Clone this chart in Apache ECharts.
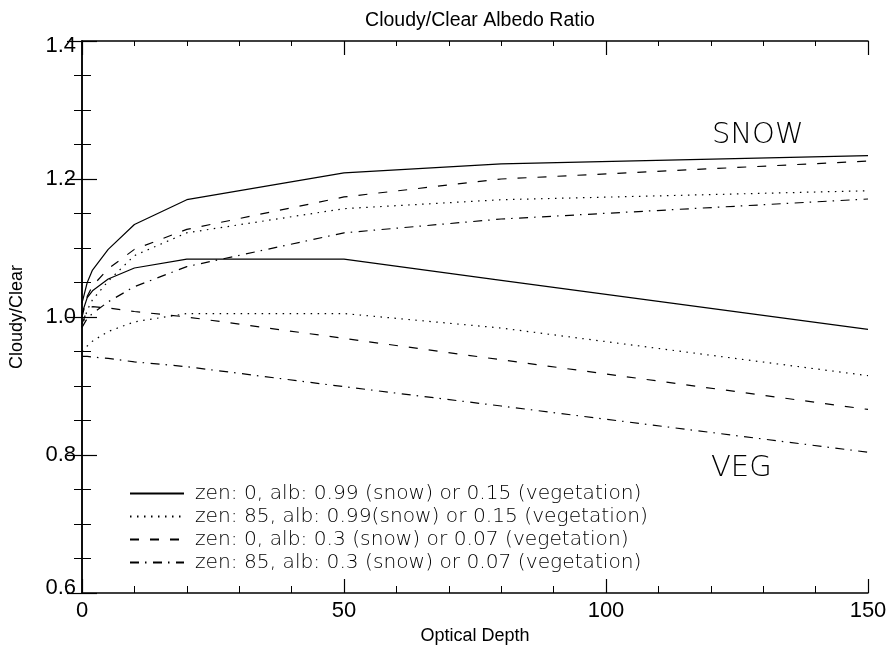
<!DOCTYPE html>
<html>
<head>
<meta charset="utf-8">
<script src="https://cdn.jsdelivr.net/npm/echarts@6/dist/echarts.min.js"></script>
<style>
html,body{margin:0;padding:0;background:#fff;}
#chart{width:890px;height:653px;}
</style>
</head>
<body>
<div id="chart"></div>
<script>
// ---- data ----
const opticalDepth = [0, 1, 2, 5, 10, 20, 50, 80, 150];
// snow (upper group)
const snowZen0Alb099 = [1.020, 1.050, 1.068, 1.098, 1.134, 1.170, 1.209, 1.222, 1.234];
const snowZen85Alb099 = [0.985, 1.010, 1.025, 1.052, 1.089, 1.122, 1.157, 1.170, 1.183];
const snowZen0Alb03 = [1.000, 1.030, 1.045, 1.070, 1.098, 1.127, 1.174, 1.200, 1.226];
const snowZen85Alb03 = [0.985, 0.998, 1.005, 1.022, 1.044, 1.073, 1.122, 1.142, 1.171];
// vegetation (lower group)
const vegZen0Alb015 = [1.005, 1.028, 1.038, 1.055, 1.071, 1.084, 1.084, 1.053, 0.982];
const vegZen85Alb015 = [0.950, 0.958, 0.965, 0.979, 0.993, 1.005, 1.005, 0.984, 0.915];
const vegZen0Alb007 = [0.990, 1.010, 1.015, 1.013, 1.008, 1.000, 0.969, 0.938, 0.866];
const vegZen85Alb007 = [0.943, 0.943, 0.942, 0.940, 0.935, 0.928, 0.899, 0.871, 0.804];

const legendNames = [
  'zen: 0, alb: 0.99 (snow) or 0.15 (vegetation)',
  'zen: 85, alb: 0.99(snow) or 0.15 (vegetation)',
  'zen: 0, alb: 0.3 (snow) or 0.07 (vegetation)',
  'zen: 85, alb: 0.3 (snow) or 0.07 (vegetation)'
];
const xTicks = [0, 50, 100, 150];
const yTicks = [0.6, 0.8, 1.0, 1.2, 1.4];

function pairs(ys) { return opticalDepth.map((x, i) => [x, ys[i]]); }

const dashStyles = ['solid', [1.5, 5.5], [9, 11], [9, 6, 1.5, 6.5]];
const groups = [
  [snowZen0Alb099, vegZen0Alb015],
  [snowZen85Alb099, vegZen85Alb015],
  [snowZen0Alb03, vegZen0Alb007],
  [snowZen85Alb03, vegZen85Alb007]
];

const series = [];
groups.forEach((g, k) => {
  g.forEach(ys => {
    series.push({
      name: legendNames[k],
      type: 'line',
      data: pairs(ys),
      symbol: 'none',
      showSymbol: false,
      animation: false,
      lineStyle: { color: '#000', width: 1.2, type: dashStyles[k] },
      itemStyle: { color: '#000' }
    });
  });
});

const font = '"Liberation Sans", Arial, Helvetica, sans-serif';
const thinFont = '"DejaVu Sans", sans-serif';
const axisLine = { show: true, lineStyle: { color: '#000', width: 1.5 } };

const chart = echarts.init(document.getElementById('chart'), null, { renderer: 'canvas' });
chart.setOption({
  backgroundColor: '#fff',
  animation: false,
  title: {
    text: 'Cloudy/Clear Albedo Ratio',
    left: 475, textAlign: 'center', top: 6,
    textStyle: { fontFamily: font, fontSize: 19.5, fontWeight: 'normal', color: '#000' }
  },
  grid: { left: 81, right: 22, top: 41, bottom: 60, containLabel: false },
  legend: {
    data: legendNames,
    orient: 'vertical',
    left: 124, top: 478,
    itemWidth: 54, itemHeight: 14, itemGap: 2,
    itemStyle: { color: 'transparent', borderWidth: 0, opacity: 0 },
    textStyle: { fontFamily: thinFont, fontSize: 20.2, fontWeight: 200, lineHeight: 21, color: '#000', padding: [0, 0, 0, 6] },
    selectedMode: false
  },
  xAxis: [
    {
      type: 'value', position: 'bottom', min: 0, max: 150, interval: 50,
      axisLine: axisLine,
      axisTick: { show: true, inside: true, length: 14, lineStyle: { color: '#000', width: 1.2 } },
      minorTick: { show: true, splitNumber: 5, length: 7, lineStyle: { color: '#000', width: 1 } },
      splitLine: { show: false },
      axisLabel: { color: '#000', fontFamily: font, fontSize: 22, margin: 7,
        formatter: v => xTicks.includes(v) ? String(v) : '' },
      name: 'Optical Depth', nameLocation: 'middle', nameGap: 31,
      nameTextStyle: { fontFamily: font, fontSize: 18, color: '#000' }
    },
    {
      type: 'value', position: 'top', min: 0, max: 150, interval: 50,
      axisLine: axisLine,
      axisTick: { show: true, inside: true, length: 14, lineStyle: { color: '#000', width: 1.2 } },
      minorTick: { show: true, splitNumber: 5, length: 5, lineStyle: { color: '#000', width: 1 } },
      splitLine: { show: false },
      axisLabel: { show: false }
    }
  ],
  yAxis: [
    {
      type: 'value', position: 'left', min: 0.6, max: 1.4, interval: 0.2,
      axisLine: axisLine,
      axisTick: { show: true, inside: true, length: 15, lineStyle: { color: '#000', width: 1.2 } },
      minorTick: { show: true, splitNumber: 4, length: 9, lineStyle: { color: '#000', width: 1 } },
      splitLine: { show: false },
      axisLabel: { color: '#000', fontFamily: font, fontSize: 22, margin: 6,
        formatter: v => {
          const t = yTicks.find(y => Math.abs(y - v) < 1e-6);
          if (t === undefined) return '';
          if (t === yTicks[yTicks.length - 1]) return '{dn|' + t.toFixed(1) + '}';
          if (t === yTicks[0]) return '{up|' + t.toFixed(1) + '}';
          return t.toFixed(1);
        },
        rich: {
          dn: { fontFamily: font, fontSize: 22, color: '#000', padding: [10, 0, 0, 0] },
          up: { fontFamily: font, fontSize: 22, color: '#000', padding: [0, 0, 10, 0] }
        }
      },
      name: 'Cloudy/Clear', nameLocation: 'middle', nameGap: 56, nameRotate: 90,
      nameTextStyle: { fontFamily: font, fontSize: 18, color: '#000' }
    },
    {
      type: 'value', position: 'right', min: 0.6, max: 1.4, interval: 0.2,
      axisLine: axisLine,
      axisTick: { show: true, inside: true, length: 15, lineStyle: { color: '#000', width: 1.2 } },
      minorTick: { show: true, splitNumber: 4, length: 8, lineStyle: { color: '#000', width: 1 } },
      splitLine: { show: false },
      axisLabel: { show: false }
    }
  ],
  graphic: [
    { type: 'text', left: 712, top: 121, style: { text: 'SNOW', fontFamily: thinFont, fontSize: 29, fontWeight: 200, fill: '#000' } },
    { type: 'text', left: 711, top: 454, style: { text: 'VEG', fontFamily: thinFont, fontSize: 29, fontWeight: 200, fill: '#000' } }
  ],
  series: series
});
</script>
</body>
</html>
